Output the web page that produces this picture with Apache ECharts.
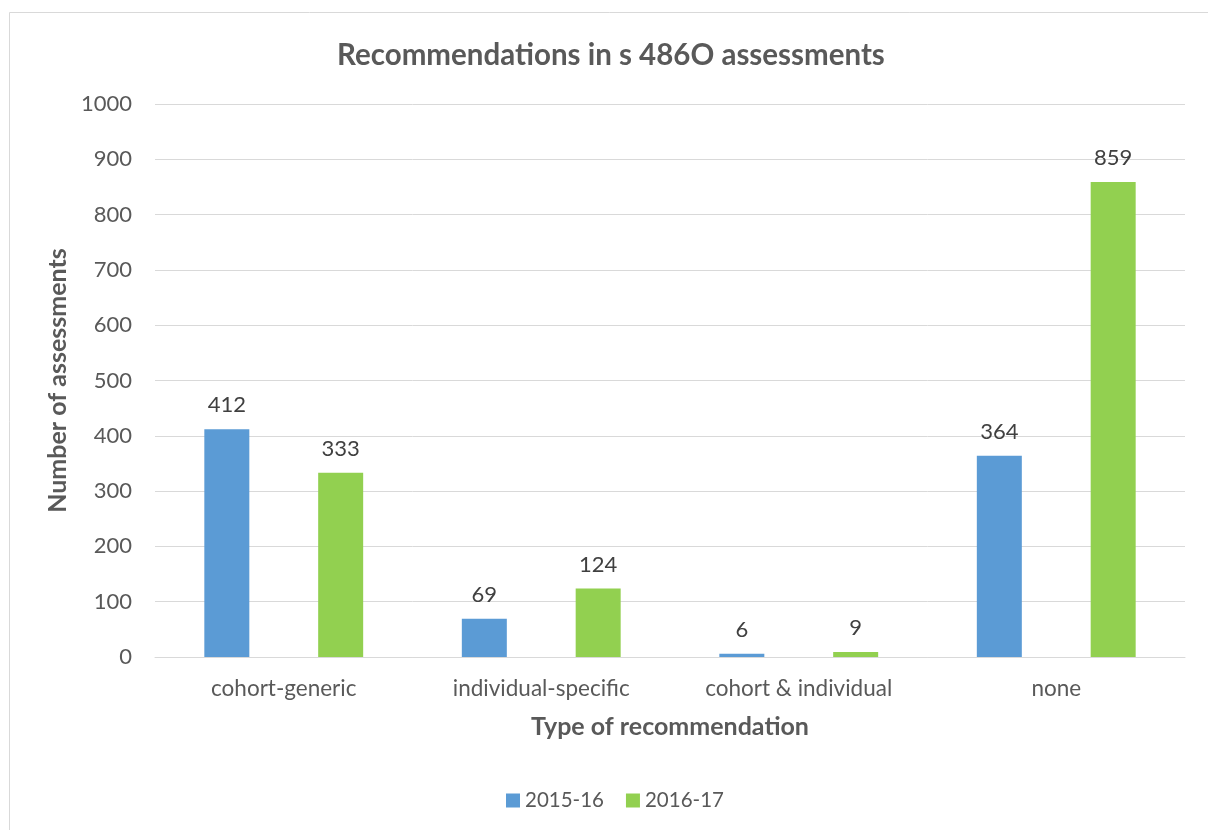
<!DOCTYPE html>
<html><head><meta charset="utf-8">
<script src="https://cdn.jsdelivr.net/npm/echarts@6/dist/echarts.min.js"></script>
<style>html,body{margin:0;padding:0;background:#fff}#c{width:1208px;height:830px}</style>
</head><body><div id="c"></div>
<script>
const categories = ['cohort-generic', 'individual-specific', 'cohort & individual', 'none'];
const series2015 = [412, 69, 6, 364];
const series2016 = [333, 124, 9, 859];
const seriesNames = ['2015-16', '2016-17'];

const FONT = 'Lato';
const chart = echarts.init(document.getElementById('c'), null, {renderer: 'canvas'});
const labelCfg = {show: true, position: 'top', distance: 13, color: '#404040', fontFamily: FONT, fontSize: 22};
chart.setOption({
  animation: false,
  backgroundColor: '#fff',
  graphic: [{type: 'rect', shape: {x: 9.5, y: 12.5, width: 1400, height: 1000}, style: {fill: 'none', stroke: '#d9d9d9', lineWidth: 1}, silent: true}],
  title: {text: 'Recommendations in s 486O assessments', left: 337, top: 40, padding: 0,
    textStyle: {fontFamily: FONT, fontWeight: 'bold', fontSize: 29.5, color: '#595959'}},
  legend: {bottom: 19, left: 506, padding: 0, itemWidth: 14, itemHeight: 14, itemGap: 22, icon: 'rect',
    textStyle: {fontFamily: FONT, fontSize: 20.5, color: '#595959'}},
  grid: {left: 155, right: 23, top: 104, bottom: 173},
  xAxis: {type: 'category', data: categories,
    name: 'Type of recommendation', nameLocation: 'middle', nameGap: 57,
    nameTextStyle: {fontFamily: FONT, fontWeight: 'bold', fontSize: 25, color: '#595959'},
    axisLine: {lineStyle: {color: '#d9d9d9', width: 1}}, axisTick: {show: false},
    axisLabel: {margin: 20, fontFamily: FONT, fontSize: 22.5, color: '#595959'}},
  yAxis: {type: 'value', min: 0, max: 1000, interval: 100,
    name: 'Number of assessments', nameLocation: 'middle', nameGap: 79,
    nameTextStyle: {fontFamily: FONT, fontWeight: 'bold', fontSize: 25, color: '#595959'},
    axisLine: {show: false}, axisTick: {show: false},
    axisLabel: {margin: 23, fontFamily: FONT, fontSize: 22, color: '#595959', formatter: v => String(v)},
    splitLine: {lineStyle: {color: '#d9d9d9', width: 1}}},
  series: [
    {name: seriesNames[0], type: 'bar', data: series2015, barWidth: 45, barGap: '153%',
     itemStyle: {color: '#5B9BD5'}, label: labelCfg},
    {name: seriesNames[1], type: 'bar', data: series2016, barWidth: 45,
     itemStyle: {color: '#92D050'}, label: labelCfg}
  ]
});
</script></body></html>
